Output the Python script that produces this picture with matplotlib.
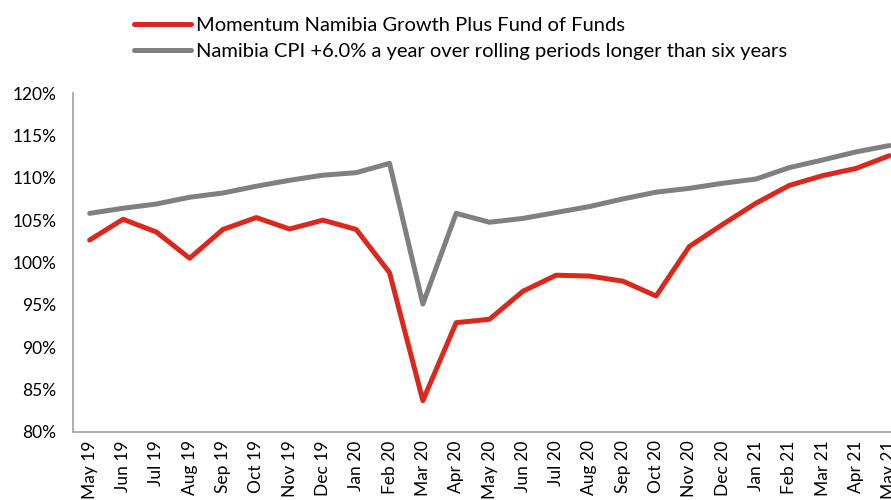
import numpy as np
import matplotlib
matplotlib.use("Agg")
import matplotlib.pyplot as plt
from matplotlib.ticker import FuncFormatter

plt.rcParams["font.family"] = ["Lato", "DejaVu Sans"]

months = ["May 19", "Jun 19", "Jul 19", "Aug 19", "Sep 19", "Oct 19", "Nov 19",
          "Dec 19", "Jan 20", "Feb 20", "Mar 20", "Apr 20", "May 20", "Jun 20",
          "Jul 20", "Aug 20", "Sep 20", "Oct 20", "Nov 20", "Dec 20", "Jan 21",
          "Feb 21", "Mar 21", "Apr 21", "May 21"]
fund = [102.65, 105.1, 103.6, 100.5, 103.9, 105.3, 103.95, 105.0, 103.9, 98.8,
        83.7, 92.9, 93.3, 96.6, 98.5, 98.4, 97.8, 96.05, 101.9, 104.5, 107.0,
        109.1, 110.25, 111.1, 112.6]
cpi = [105.8, 106.4, 106.9, 107.7, 108.2, 109.0, 109.7, 110.3, 110.6, 111.7,
       95.1, 105.8, 104.75, 105.2, 105.9, 106.6, 107.5, 108.3, 108.75, 109.35,
       109.85, 111.2, 112.1, 113.05, 113.8]
labels = ["Momentum Namibia Growth Plus Fund of Funds",
          "Namibia CPI +6.0% a year over rolling periods longer than six years"]

RED = "#DA291C"
GREY = "#808080"

fig = plt.figure(figsize=(8.91, 5.0), dpi=100)
ax = fig.add_axes([73 / 891, 68 / 500, 833 / 891, 339 / 500])

x = np.arange(len(months))
ax.plot(x, fund, color=RED, lw=3.6, solid_capstyle="round", label=labels[0])
ax.plot(x, cpi, color=GREY, lw=3.6, solid_capstyle="round", label=labels[1])

ax.set_xlim(-0.5, len(months) - 0.5)
ax.set_ylim(80, 120)
ax.set_yticks(np.arange(80, 121, 5))
ax.yaxis.set_major_formatter(FuncFormatter(lambda v, _: f"{v:.0f}%"))
ax.set_xticks(x)
ax.set_xticklabels(months, rotation=90)
ax.tick_params(axis="both", length=0, labelsize=12.5, colors="black")
ax.tick_params(axis="y", pad=12)
ax.tick_params(axis="x", pad=6)

for side in ["top", "right"]:
    ax.spines[side].set_visible(False)
for side in ["left", "bottom"]:
    ax.spines[side].set_color("#A0A0A0")
    ax.spines[side].set_linewidth(1.2)

fig.legend(loc="upper left", bbox_to_anchor=(126 / 891, 1 - 9 / 500),
           frameon=False, fontsize=14.5, handlelength=2.85, handletextpad=0.25,
           labelspacing=0.45, borderaxespad=0)

fig.savefig("out.png", dpi=100)
